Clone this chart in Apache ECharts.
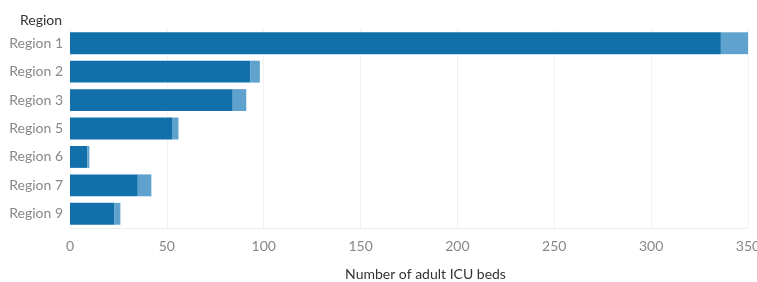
<!DOCTYPE html>
<html lang="en">
<head>
  <meta charset="UTF-8">
  <title>Adult ICU beds by region</title>
  <script src="https://cdn.jsdelivr.net/npm/echarts@6/dist/echarts.min.js"></script>
</head>
<style>
  body{ margin: 0; }
  #main{ width: 757px; height: 282px; }
</style>
<body>
  <div id="main"></div>
  <script>
    var regions = ['Region 1', 'Region 2', 'Region 3', 'Region 5', 'Region 6', 'Region 7', 'Region 9'];
    // occupied part (dark) and remaining part (light) of each bar
    var bedsDark = [336, 93, 84, 53, 9, 35, 23];
    var bedsLight = [15, 5, 7, 3, 1, 7, 3];
    var xTicks = [0, 50, 100, 150, 200, 250, 300, 350];

    var myChart = echarts.init(document.getElementById('main'));

    var font = 'Lato, "Open Sans", sans-serif';

    option = {
      animation: false,
      textStyle: { fontFamily: font },
      grid: { left: 70, right: 9, top: 29, bottom: 54, outerBoundsMode: 'none', containLabel: false },
      graphic: [
        { type: 'text', left: 20, top: 13,
          style: { text: 'Region', fill: '#333', font: '14px ' + font } }
      ],
      xAxis: {
        type: 'value',
        min: xTicks[0],
        max: xTicks[xTicks.length - 1],
        interval: 50,
        name: 'Number of adult ICU beds',
        nameLocation: 'middle',
        nameGap: 39,
        nameTextStyle: { color: '#333', fontSize: 14, padding: [0, 0, 0, 33] },
        axisLine: { show: true, lineStyle: { color: '#eeeeee' } },
        axisTick: { show: false },
        axisLabel: { color: '#888', fontSize: 14, margin: 11 },
        splitLine: { lineStyle: { color: '#f2f2f2' } }
      },
      yAxis: {
        type: 'category',
        data: regions,
        inverse: true,
        axisLine: { show: false },
        axisTick: { show: false },
        axisLabel: { color: '#888', fontSize: 14, margin: 7 }
      },
      series: [
        {
          type: 'bar',
          stack: 'beds',
          data: bedsDark,
          barWidth: '77%',
          itemStyle: { color: '#1170aa' }
        },
        {
          type: 'bar',
          stack: 'beds',
          data: bedsLight,
          barWidth: '77%',
          itemStyle: { color: '#5fa2ce' }
        }
      ]
    };

    myChart.setOption(option);
  </script>
</body>
</html>
